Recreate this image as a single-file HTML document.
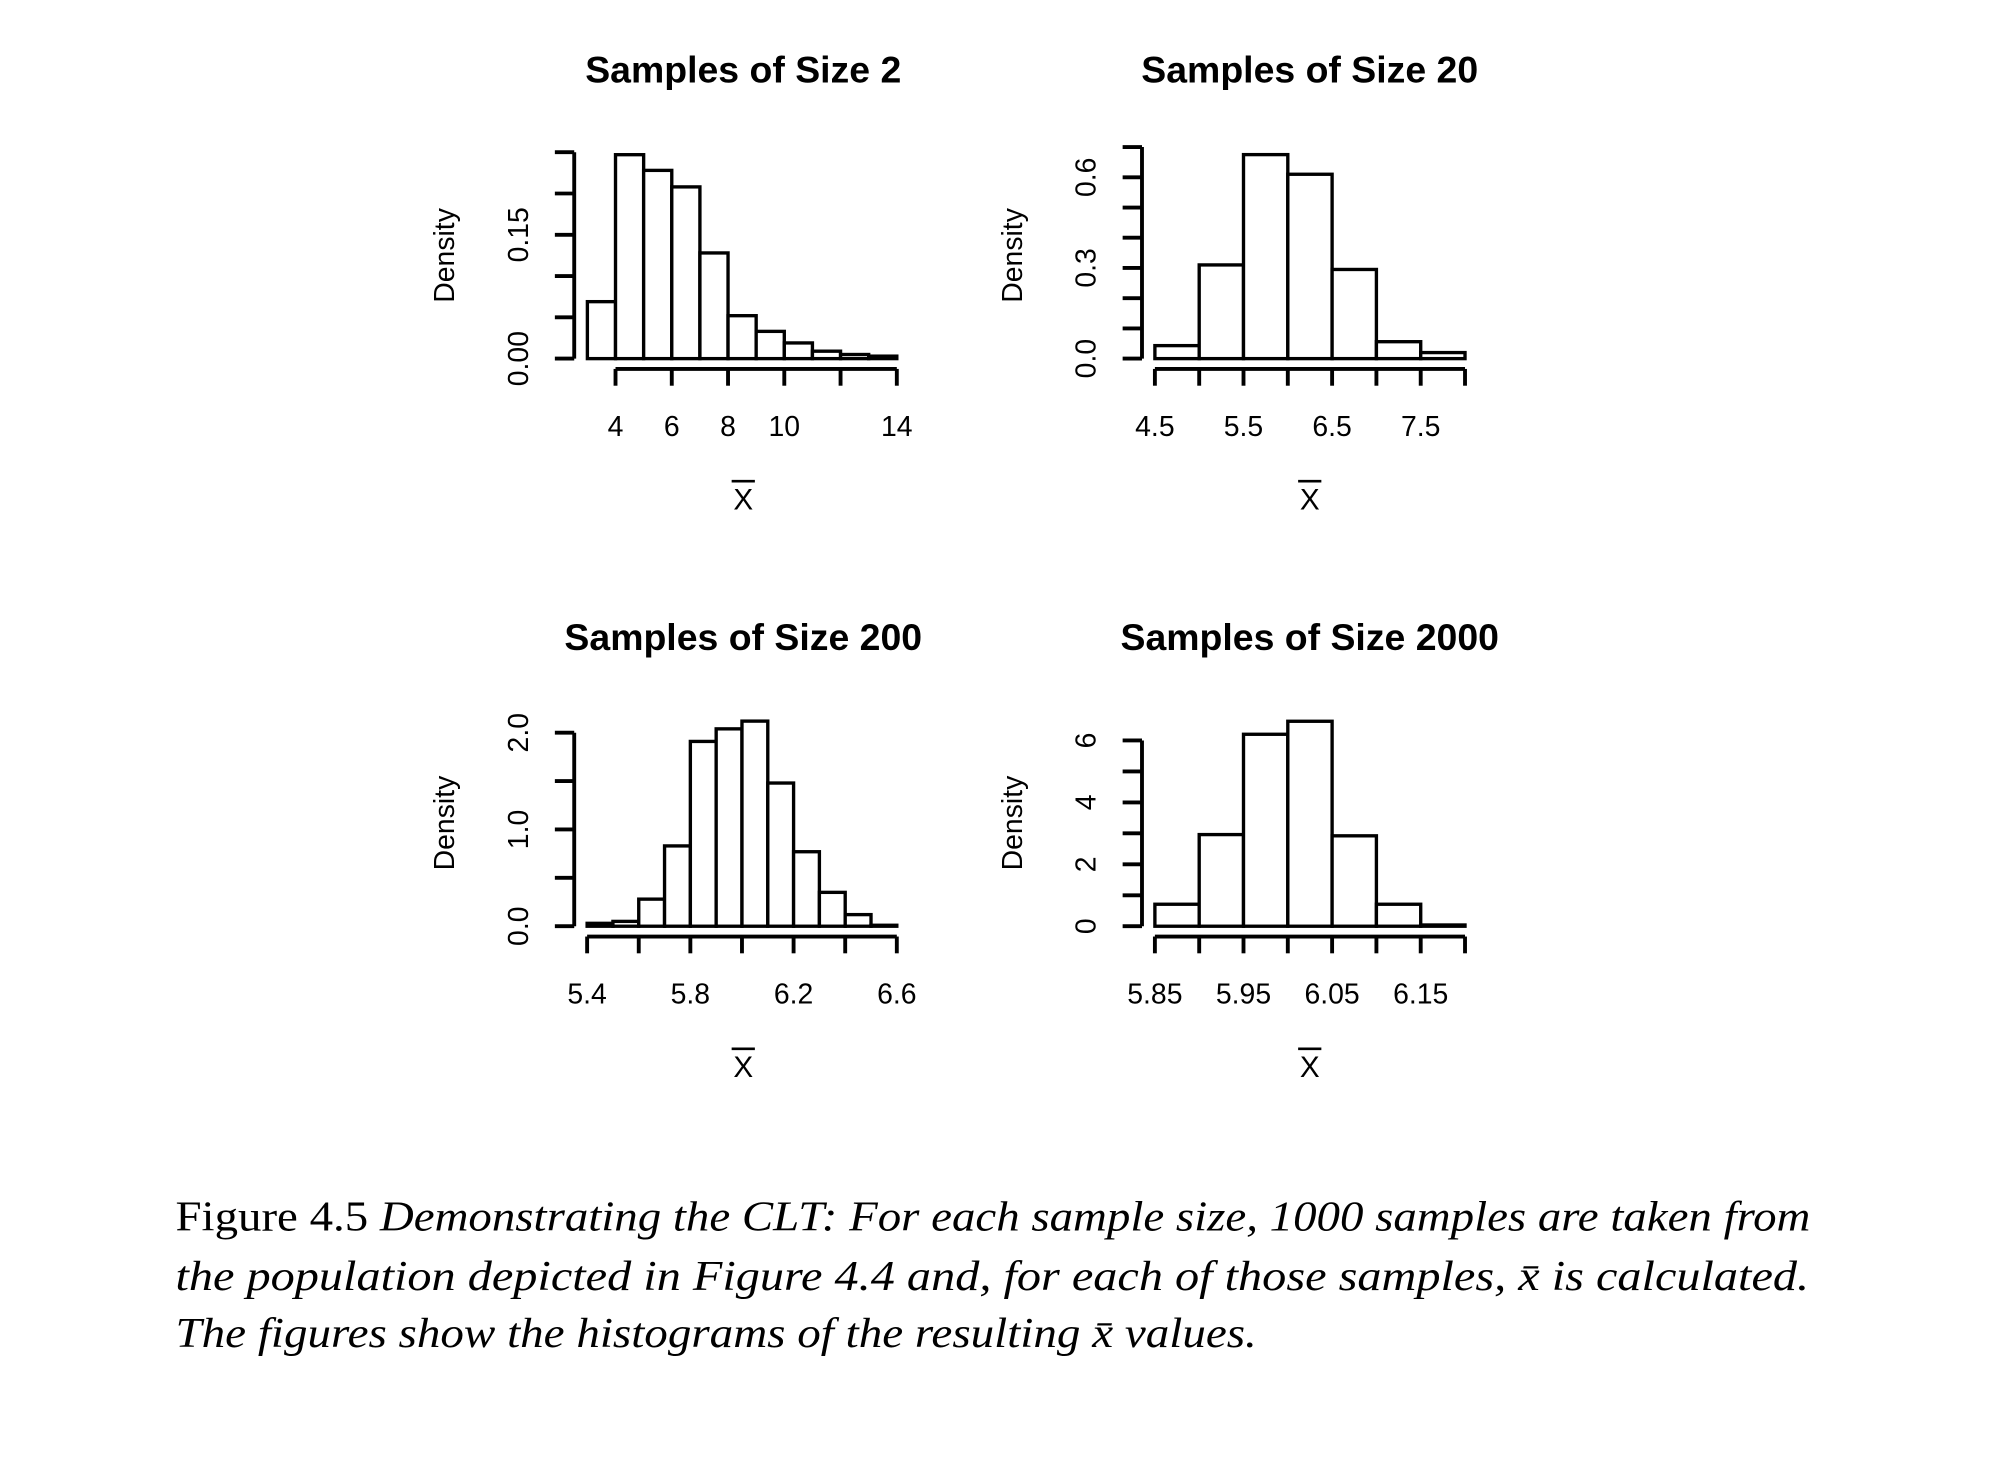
<!DOCTYPE html>
<html><head><meta charset="utf-8"><style>
html,body{margin:0;padding:0;background:#fff}
svg{display:block}
text{font-family:"Liberation Sans",Arial,sans-serif;fill:#000}
.cap{font-family:"Liberation Serif","DejaVu Serif",serif;font-size:33px}
</style></head><body>
<svg id="fig" width="2013" height="1459" viewBox="0 0 1560 1131" preserveAspectRatio="none" xmlns="http://www.w3.org/2000/svg">
<g id="plots" transform="translate(-3,0)"></g>
<g>
<text class="cap" x="136" y="954" textLength="1267" lengthAdjust="spacingAndGlyphs">Figure 4.5 <tspan font-style="italic"> Demonstrating the CLT: For each sample size, 1000 samples are taken from</tspan></text>
<text class="cap" x="136" y="1000" font-style="italic" textLength="1266" lengthAdjust="spacingAndGlyphs">the population depicted in Figure 4.4 and, for each of those samples, x̄ is calculated.</text>
<text class="cap" x="136" y="1044" font-style="italic" textLength="838" lengthAdjust="spacingAndGlyphs">The figures show the histograms of the resulting x̄ values.</text>
</g>
</svg>
<script>
// Panel 1: size 2
const p1Breaks=[3,4,5,6,7,8,9,10,11,12,13,14];
const p1Dens=[0.069,0.247,0.228,0.208,0.128,0.052,0.033,0.019,0.009,0.005,0.003];
const p1XTicks=[4,6,8,10,12,14];
const p1XLabels=["4","6","8","10","","14"];
const p1YTicks=[0,0.05,0.1,0.15,0.2,0.25];
const p1YLabels=["0.00","","","0.15","",""];
// Panel 2: size 20
const p2Breaks=[4.5,5,5.5,6,6.5,7,7.5,8];
const p2Dens=[0.043,0.31,0.675,0.61,0.295,0.056,0.02];
const p2XTicks=[4.5,5,5.5,6,6.5,7,7.5,8];
const p2XLabels=["4.5","","5.5","","6.5","","7.5",""];
const p2YTicks=[0,0.1,0.2,0.3,0.4,0.5,0.6,0.7];
const p2YLabels=["0.0","","","0.3","","","0.6",""];
// Panel 3: size 200
const p3Breaks=[5.4,5.5,5.6,5.7,5.8,5.9,6.0,6.1,6.2,6.3,6.4,6.5,6.6];
const p3Dens=[0.03,0.05,0.28,0.83,1.91,2.04,2.12,1.48,0.77,0.35,0.12,0.01];
const p3XTicks=[5.4,5.6,5.8,6.0,6.2,6.4,6.6];
const p3XLabels=["5.4","","5.8","","6.2","","6.6"];
const p3YTicks=[0,0.5,1,1.5,2];
const p3YLabels=["0.0","","1.0","","2.0"];
// Panel 4: size 2000
const p4Breaks=[5.85,5.9,5.95,6.0,6.05,6.1,6.15,6.2];
const p4Dens=[0.71,2.96,6.2,6.62,2.92,0.71,0.04];
const p4XTicks=[5.85,5.9,5.95,6.0,6.05,6.1,6.15,6.2];
const p4XLabels=["5.85","","5.95","","6.05","","6.15",""];
const p4YTicks=[0,1,2,3,4,5,6];
const p4YLabels=["0","","2","","4","","6"];

const NS="http://www.w3.org/2000/svg";
const root=document.getElementById('plots');
function mk(tag,attrs,parent){const e=document.createElementNS(NS,tag);for(const k in attrs)e.setAttribute(k,attrs[k]);parent.appendChild(e);return e;}

function panel(o){
  const g=mk('g',{},root);
  
  
  const sx=v=>o.x0+(v-o.xa)*(o.x1-o.x0)/(o.xb-o.xa);
  const sy=v=>o.y0-(v-o.ya)*(o.y0-o.y1)/(o.yb-o.ya);
  const t=mk('text',{x:o.cx,y:o.ty,'text-anchor':'middle','font-size':29,'font-weight':'bold'},g);
  t.textContent=o.title;
  
  
  for(let i=0;i<o.dens.length;i++){
    const a=sx(o.breaks[i]),b=sx(o.breaks[i+1]),y=sy(o.dens[i]);
    const r=mk('rect',{x:a,y:y,width:b-a,height:sy(0)-y,fill:'#fff',stroke:'#000','stroke-width':2.6},g);
    
    
  }
  const ya=mk('g',{},g);
  
  
  const ax=o.yax;
  mk('line',{x1:ax,x2:ax,y1:sy(o.yticks[0]),y2:sy(o.yticks[o.yticks.length-1]),stroke:'#000','stroke-width':3},ya);
  o.yticks.forEach((v,i)=>{
    mk('line',{x1:ax-15,x2:ax,y1:sy(v),y2:sy(v),stroke:'#000','stroke-width':3},ya);
    if(o.ylabels[i]){
      const tx=mk('text',{x:0,y:0,'text-anchor':'middle','font-size':22,transform:`translate(${ax-36},${sy(v)}) rotate(-90)`},ya);
      tx.textContent=o.ylabels[i];
      
      
    }
  });
  const yt=mk('text',{x:0,y:0,'text-anchor':'middle','font-size':22,transform:`translate(${ax-93},${o.ymid}) rotate(-90)`},ya);
  yt.textContent='Density';
  
  
  const xa=mk('g',{},g);
  
  
  const ay=o.xay;
  mk('line',{x1:sx(o.xticks[0]),x2:sx(o.xticks[o.xticks.length-1]),y1:ay,y2:ay,stroke:'#000','stroke-width':3},xa);
  o.xticks.forEach((v,i)=>{
    mk('line',{x1:sx(v),x2:sx(v),y1:ay,y2:ay+13,stroke:'#000','stroke-width':3},xa);
    if(o.xlabels[i]){
      const tx=mk('text',{x:sx(v),y:ay+52,'text-anchor':'middle','font-size':22},xa);
      tx.textContent=o.xlabels[i];
      
      
    }
  });
  const xt=mk('text',{x:o.cx,y:ay+109,'text-anchor':'middle','font-size':23},xa);
  xt.textContent='X';
  
  
  mk('line',{x1:o.cx-9,x2:o.cx+9,y1:ay+87,y2:ay+87,stroke:'#000','stroke-width':2},xa);
}
panel({name:'panel-size-2',title:'Samples of Size 2',cx:579,ty:64,breaks:p1Breaks,dens:p1Dens,xticks:p1XTicks,xlabels:p1XLabels,yticks:p1YTicks,ylabels:p1YLabels,xa:4,xb:14,x0:480,x1:698,ya:0,yb:0.25,y0:278,y1:118,yax:448,xay:286,ymid:198});
panel({name:'panel-size-20',title:'Samples of Size 20',cx:1018,ty:64,breaks:p2Breaks,dens:p2Dens,xticks:p2XTicks,xlabels:p2XLabels,yticks:p2YTicks,ylabels:p2YLabels,xa:4.5,xb:7.5,x0:898,x1:1104,ya:0,yb:0.7,y0:278,y1:114,yax:888,xay:286,ymid:198});
panel({name:'panel-size-200',title:'Samples of Size 200',cx:579,ty:504,breaks:p3Breaks,dens:p3Dens,xticks:p3XTicks,xlabels:p3XLabels,yticks:p3YTicks,ylabels:p3YLabels,xa:5.4,xb:6.6,x0:458,x1:698,ya:0,yb:2,y0:718,y1:568,yax:448,xay:726,ymid:638});
panel({name:'panel-size-2000',title:'Samples of Size 2000',cx:1018,ty:504,breaks:p4Breaks,dens:p4Dens,xticks:p4XTicks,xlabels:p4XLabels,yticks:p4YTicks,ylabels:p4YLabels,xa:5.85,xb:6.15,x0:898,x1:1104,ya:0,yb:6,y0:718,y1:574,yax:888,xay:726,ymid:638});
</script>
</body></html>
